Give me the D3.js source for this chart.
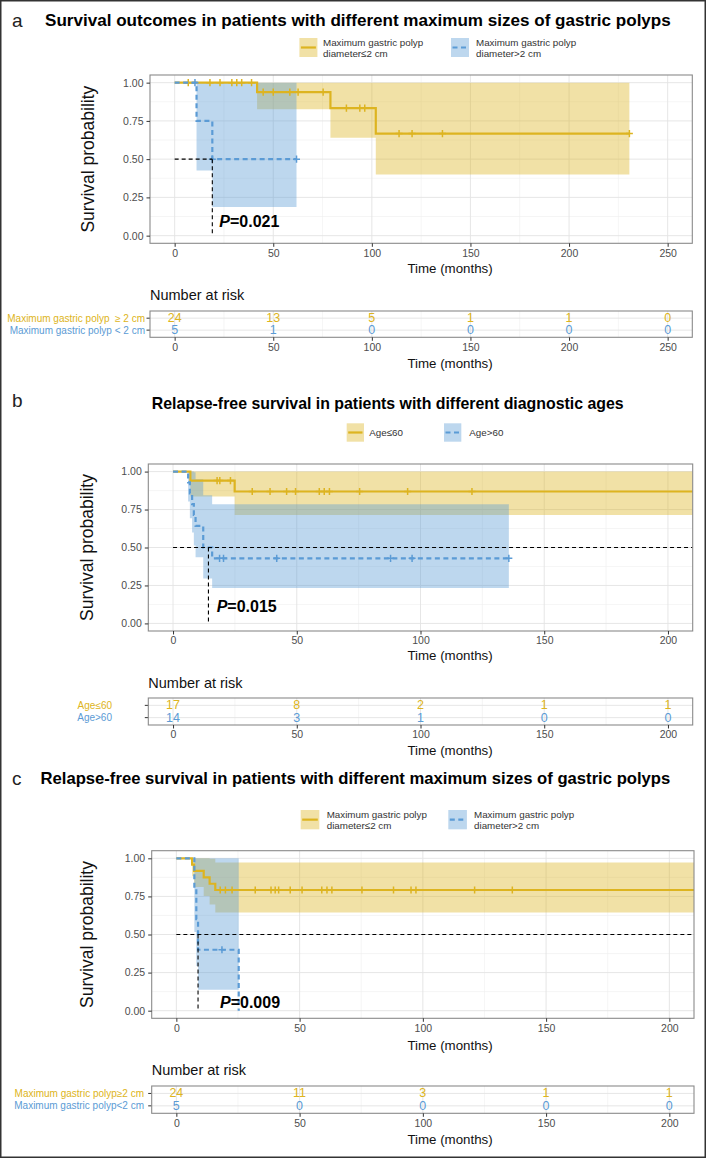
<!DOCTYPE html>
<html><head><meta charset="utf-8">
<script src="https://cdn.jsdelivr.net/npm/d3@7"></script>
<style>
html,body{margin:0;padding:0;background:#fff;}
svg{display:block;}
</style></head><body>
<svg id="chart" width="706" height="1158"></svg>
<script>
// ================= DATA =================
const yTicks = [0, 0.25, 0.5, 0.75, 1];
const yTickLabels = ["0.00", "0.25", "0.50", "0.75", "1.00"];

// ---- panel a ----
const aTitle = "Survival outcomes in patients with different maximum sizes of gastric polyps";
const aTicksX = [0, 50, 100, 150, 200, 250];
const aLegendYellow = ["Maximum gastric polyp", "diameter≤2 cm"];
const aLegendBlue = ["Maximum gastric polyp", "diameter>2 cm"];
const aRowLabels = ["Maximum gastric polyp  ≥ 2 cm", "Maximum gastric polyp < 2 cm"];
const aYellowTimes = [0, 41.8, 79, 102, 230.6];
const aYellowSurv = [1, 0.9375, 0.833, 0.667, 0.667];
const aYellowLower = [1, 0.826, 0.64, 0.40, 0.40];
const aYellowUpper = [1, 1, 1, 1, 1];
const aYellowCensor = [6.9, 17.9, 23, 29, 31.5, 34, 39, 44.9, 50, 58.4, 62.6, 75.3, 87.1, 93.9, 96.4, 113.8, 120.4, 135.8, 230.6];
const aBlueTimes = [0, 11.1, 19.1, 61.8];
const aBlueSurv = [1, 0.75, 0.5, 0.5];
const aBlueLower = [1, 0.426, 0.188, 0.188];
const aBlueUpper = [1, 1, 1, 1];
const aBlueCensor = [10.3, 19.1, 61.8];
const aMedian = 19.1;
const aPValue = "0.021";
const aRiskYellow = [24, 13, 5, 1, 1, 0];
const aRiskBlue = [5, 1, 0, 0, 0, 0];

// ---- panel b ----
const bTitle = "Relapse-free survival in patients with different diagnostic ages";
const bTicksX = [0, 50, 100, 150, 200];
const bLegendYellow = ["Age≤60"];
const bLegendBlue = ["Age>60"];
const bRowLabels = ["Age≤60", "Age>60"];
const bYellowTimes = [0, 7.0, 24.9, 215];
const bYellowSurv = [1, 0.941, 0.869, 0.869];
const bYellowLower = [1, 0.836, 0.714, 0.714];
const bYellowUpper = [1, 1, 1, 1];
const bYellowCensor = [17.8, 18.9, 23.2, 32, 39.2, 45.9, 49.5, 59.1, 61.1, 63.2, 75.4, 94.8, 120.8];
const bBlueTimes = [0, 6.1, 6.8, 7.7, 8.4, 9.1, 12.2, 15.8, 135.7];
const bBlueSurv = [1, 0.929, 0.857, 0.786, 0.714, 0.643, 0.5, 0.429, 0.429];
const bBlueLower = [1, 0.803, 0.692, 0.598, 0.513, 0.435, 0.296, 0.234, 0.234];
const bBlueUpper = [1, 1, 1, 1, 0.995, 0.95, 0.844, 0.785, 0.785];
const bBlueCensor = [18.8, 20.4, 41.9, 87.9, 96.6, 135.7];
const bMedian = 14.3;
const bPValue = "0.015";
const bRiskYellow = [17, 8, 2, 1, 1];
const bRiskBlue = [14, 3, 1, 0, 0];

// ---- panel c ----
const cTitle = "Relapse-free survival in patients with different maximum sizes of gastric polyps";
const cTicksX = [0, 50, 100, 150, 200];
const cLegendYellow = ["Maximum gastric polyp", "diameter≤2 cm"];
const cLegendBlue = ["Maximum gastric polyp", "diameter>2 cm"];
const cRowLabels = ["Maximum gastric polyp≥2 cm", "Maximum gastric polyp<2 cm"];
const cYellowTimes = [0, 6.4, 7.2, 11.1, 13.5, 15.8, 215];
const cYellowSurv = [1, 0.958, 0.917, 0.875, 0.833, 0.792, 0.792];
const cYellowLower = [1, 0.882, 0.812, 0.752, 0.697, 0.645, 0.645];
const cYellowUpper = [1, 1, 1, 1, 0.997, 0.972, 0.972];
const cYellowCensor = [17.8, 19.9, 22.6, 32, 38.4, 40.1, 41.5, 46.2, 51, 59, 61.1, 63.1, 75.3, 88.1, 95.2, 97.2, 121, 136.3];
const cBlueTimes = [0, 7.3, 8.1, 8.8, 25.3];
const cBlueSurv = [1, 0.8, 0.6, 0.4, 0];
const cBlueLower = [1, 0.516, 0.293, 0.137, 0.137];
const cBlueUpper = [1, 1, 1, 1, 1];
const cBlueCensor = [18.5];
const cMedian = 8.8;
const cPValue = "0.009";
const cRiskYellow = [24, 11, 3, 1, 1];
const cRiskBlue = [5, 0, 0, 0, 0];

// ================= STYLE =================
const FONT = '"Liberation Sans", Arial, Helvetica, sans-serif';
const YEL = "#DDB420", BLU = "#5B9BD5";
const FILL_OP = 0.4;
const BLUE_DASH = "5,3.5";

const svg = d3.select("#chart").attr("font-family", FONT);
svg.append("rect").attr("width", 706).attr("height", 1158).attr("fill", "#fff");
const defs = svg.append("defs");

function survAt(times, surv, t) {
  let v = surv[0];
  for (let i = 0; i < times.length; i++) if (times[i] <= t) v = surv[i];
  return v;
}
function fitWidth(sel, w) {
  const cw = sel.node().getComputedTextLength();
  const fs = parseFloat(sel.attr("font-size"));
  sel.attr("font-size", (fs * w / cw).toFixed(2));
}

function drawPanel(P) {
  const box = P.box;
  const x = d3.scaleLinear().domain(P.xDomain).range([box.l, box.r]);
  const y = d3.scaleLinear().domain([-0.05, 1.05]).range([box.b, box.t]);
  const g = svg.append("g");

  // tag + title
  g.append("text").attr("x", P.tagX).attr("y", P.tagY).attr("font-size", 19)
    .attr("fill", "#222").text(P.tag);
  const tt = g.append("text").attr("x", P.titleX).attr("y", P.titleY).attr("font-size", 16)
    .attr("font-weight", "bold").attr("fill", "#000").text(P.title);
  fitWidth(tt, P.titleW);

  // legend
  P.legend.forEach(it => {
    g.append("rect").attr("x", it.x).attr("y", it.y).attr("width", it.w).attr("height", it.h)
      .attr("fill", it.color).attr("fill-opacity", FILL_OP);
    g.append("line").attr("x1", it.x + 1.5).attr("x2", it.x + it.w - 1.5)
      .attr("y1", it.y + it.h / 2).attr("y2", it.y + it.h / 2)
      .attr("stroke", it.color).attr("stroke-width", 2.2)
      .attr("stroke-dasharray", it.dash || null);
    const n = it.lines.length;
    it.lines.forEach((ln, i) => {
      g.append("text").attr("x", it.tx)
        .attr("y", it.y + it.h / 2 + (i - (n - 1) / 2) * 11)
        .attr("dominant-baseline", "central").attr("font-size", 9.8).attr("fill", "#333")
        .text(ln);
    });
  });

  // clip
  const cid = "clip-" + P.id;
  defs.append("clipPath").attr("id", cid).append("rect")
    .attr("x", box.l).attr("y", box.t).attr("width", box.r - box.l).attr("height", box.b - box.t);

  // grid
  const minorX = P.ticksX.slice(1).map((d, i) => (d + P.ticksX[i]) / 2);
  const minorY = yTicks.slice(1).map((d, i) => (d + yTicks[i]) / 2);
  const grid = g.append("g");
  grid.selectAll(null).data(minorX).join("line")
    .attr("x1", d => x(d)).attr("x2", d => x(d)).attr("y1", box.t).attr("y2", box.b)
    .attr("stroke", "#EFEFEF").attr("stroke-width", 0.6);
  grid.selectAll(null).data(minorY).join("line")
    .attr("y1", d => y(d)).attr("y2", d => y(d)).attr("x1", box.l).attr("x2", box.r)
    .attr("stroke", "#EFEFEF").attr("stroke-width", 0.6);
  grid.selectAll(null).data(P.ticksX).join("line")
    .attr("x1", d => x(d)).attr("x2", d => x(d)).attr("y1", box.t).attr("y2", box.b)
    .attr("stroke", "#E3E3E3").attr("stroke-width", 0.9);
  grid.selectAll(null).data(yTicks).join("line")
    .attr("y1", d => y(d)).attr("y2", d => y(d)).attr("x1", box.l).attr("x2", box.r)
    .attr("stroke", "#E3E3E3").attr("stroke-width", 0.9);

  const plot = g.append("g").attr("clip-path", `url(#${cid})`);
  // CI ribbons
  P.curves.forEach(c => {
    const pts = c.times.map((t, i) => ({ t, lo: c.lower[i], hi: c.upper[i] }));
    plot.append("path").datum(pts)
      .attr("d", d3.area().curve(d3.curveStepAfter).x(d => x(d.t)).y0(d => y(d.lo)).y1(d => y(d.hi)))
      .attr("fill", c.color).attr("fill-opacity", FILL_OP);
  });
  // curves + censor marks
  P.curves.forEach(c => {
    const pts = c.times.map((t, i) => ({ t, s: c.surv[i] }));
    plot.append("path").datum(pts)
      .attr("d", d3.line().curve(d3.curveStepAfter).x(d => x(d.t)).y(d => y(d.s)))
      .attr("fill", "none").attr("stroke", c.color).attr("stroke-width", 2.2)
      .attr("stroke-dasharray", c.dash || null);
    plot.selectAll(null).data(c.censor).join("path")
      .attr("d", t => {
        const cx = x(t), cy = y(survAt(c.times, c.surv, t));
        return `M${cx - 3.5},${cy}H${cx + 3.5}M${cx},${cy - 3.6}V${cy + 3.6}`;
      })
      .attr("stroke", c.color).attr("stroke-width", 1.5).attr("fill", "none");
  });
  // median lines
  const mEnd = P.medianFull ? P.xDomain[1] : P.median;
  plot.append("path")
    .attr("d", `M${x(0)},${y(0.5)}H${x(mEnd)}M${x(P.median)},${y(0.5)}V${y(0)}`)
    .attr("fill", "none").attr("stroke", "#000").attr("stroke-width", 1.1)
    .attr("stroke-dasharray", "4,3");

  // p value
  const pt = g.append("text").attr("x", P.pX).attr("y", P.pY).attr("font-size", 16)
    .attr("font-weight", "bold").attr("fill", "#000");
  pt.append("tspan").attr("font-style", "italic").text("P");
  pt.append("tspan").text("=" + P.pValue);

  // border
  g.append("rect").attr("x", box.l).attr("y", box.t).attr("width", box.r - box.l)
    .attr("height", box.b - box.t).attr("fill", "none").attr("stroke", "#8A8A8A").attr("stroke-width", 1.1);

  // axes
  const ax = g.append("g").attr("transform", `translate(0,${box.b})`)
    .call(d3.axisBottom(x).tickValues(P.ticksX).tickSize(3.5).tickPadding(2.5).tickFormat(d3.format("d")));
  const ay = g.append("g").attr("transform", `translate(${box.l},0)`)
    .call(d3.axisLeft(y).tickValues(yTicks).tickSize(3.5).tickPadding(3).tickFormat((d, i) => yTickLabels[i]));
  [ax, ay].forEach(a => {
    a.attr("font-family", FONT).attr("font-size", 10.5);
    a.select(".domain").remove();
    a.selectAll("line").attr("stroke", "#333");
    a.selectAll("text").attr("fill", "#4D4D4D");
  });

  // axis titles
  g.append("text").attr("transform", `translate(${P.yLabX},${(box.t + box.b) / 2}) rotate(-90)`)
    .attr("text-anchor", "middle").attr("dominant-baseline", "central")
    .attr("font-size", 17.5).attr("fill", "#111").text("Survival probability");
  g.append("text").attr("x", 450).attr("y", P.xTitleY).attr("text-anchor", "middle")
    .attr("dominant-baseline", "central").attr("font-size", 13.3).attr("fill", "#111").text("Time (months)");

  // ===== risk table =====
  const T = P.table;
  const tb = T.box;
  const tx = d3.scaleLinear().domain(P.xDomain).range([tb.l, tb.r]);
  const ty = d3.scalePoint().domain([0, 1]).range([tb.t, tb.b]).padding(0.6);
  const tg = svg.append("g");
  tg.append("text").attr("x", tb.l).attr("y", T.narY).attr("dominant-baseline", "central")
    .attr("font-size", 14.5).attr("fill", "#111").text("Number at risk");
  tg.selectAll(null).data(minorX).join("line")
    .attr("x1", d => tx(d)).attr("x2", d => tx(d)).attr("y1", tb.t).attr("y2", tb.b)
    .attr("stroke", "#EFEFEF").attr("stroke-width", 0.6);
  tg.selectAll(null).data(P.ticksX).join("line")
    .attr("x1", d => tx(d)).attr("x2", d => tx(d)).attr("y1", tb.t).attr("y2", tb.b)
    .attr("stroke", "#E3E3E3").attr("stroke-width", 0.9);
  tg.selectAll(null).data([0, 1]).join("line")
    .attr("y1", d => ty(d)).attr("y2", d => ty(d)).attr("x1", tb.l).attr("x2", tb.r)
    .attr("stroke", "#E3E3E3").attr("stroke-width", 0.9);
  const colors = [YEL, BLU];
  T.risk.forEach((row, ri) => {
    tg.selectAll(null).data(row).join("text")
      .attr("x", (d, i) => tx(P.ticksX[i])).attr("y", ty(ri))
      .attr("text-anchor", "middle").attr("dominant-baseline", "central")
      .attr("font-size", 12.5).attr("fill", colors[ri]).text(d => d);
    tg.append("text").attr("x", T.rowLabelX).attr("y", ty(ri)).attr("text-anchor", "end")
      .attr("dominant-baseline", "central").attr("font-size", 10).attr("fill", colors[ri])
      .style("white-space", "pre").text(T.labels[ri]);
    tg.append("line").attr("x1", tb.l - 3.5).attr("x2", tb.l).attr("y1", ty(ri)).attr("y2", ty(ri))
      .attr("stroke", "#333");
  });
  tg.append("rect").attr("x", tb.l).attr("y", tb.t).attr("width", tb.r - tb.l).attr("height", tb.b - tb.t)
    .attr("fill", "none").attr("stroke", "#8A8A8A").attr("stroke-width", 1.1);
  const tax = tg.append("g").attr("transform", `translate(0,${tb.b})`)
    .call(d3.axisBottom(tx).tickValues(P.ticksX).tickSize(3.5).tickPadding(2.5).tickFormat(d3.format("d")));
  tax.attr("font-family", FONT).attr("font-size", 10.5);
  tax.select(".domain").remove();
  tax.selectAll("line").attr("stroke", "#333");
  tax.selectAll("text").attr("fill", "#4D4D4D");
  tg.append("text").attr("x", 450).attr("y", T.tTitleY).attr("text-anchor", "middle")
    .attr("dominant-baseline", "central").attr("font-size", 13.3).attr("fill", "#111").text("Time (months)");
}

// ================= PANELS =================
drawPanel({
  id: "a", tag: "a", tagX: 12, tagY: 27, title: aTitle, titleX: 45, titleY: 26, titleW: 626,
  box: { l: 150, r: 692.3, t: 75, b: 243.3 }, xDomain: [-12.5, 262.5], ticksX: aTicksX,
  legend: [
    { x: 299.4, y: 38, w: 18, h: 19, color: YEL, dash: null, tx: 323, lines: aLegendYellow },
    { x: 451, y: 38, w: 18, h: 19, color: BLU, dash: BLUE_DASH, tx: 476, lines: aLegendBlue }
  ],
  curves: [
    { times: aYellowTimes, surv: aYellowSurv, lower: aYellowLower, upper: aYellowUpper, censor: aYellowCensor, color: YEL, dash: null },
    { times: aBlueTimes, surv: aBlueSurv, lower: aBlueLower, upper: aBlueUpper, censor: aBlueCensor, color: BLU, dash: BLUE_DASH }
  ],
  median: aMedian, medianFull: false, pX: 219.3, pY: 226.7, pValue: aPValue,
  yLabX: 88, xTitleY: 268,
  table: { box: { l: 150, r: 692.3, t: 311, b: 337.3 }, narY: 295, tTitleY: 363, rowLabelX: 145,
    labels: aRowLabels, risk: [aRiskYellow, aRiskBlue] }
});

drawPanel({
  id: "b", tag: "b", tagX: 12, tagY: 407, title: bTitle, titleX: 151.7, titleY: 409, titleW: 472,
  box: { l: 148.3, r: 692.7, t: 464, b: 631 }, xDomain: [-10, 210], ticksX: bTicksX,
  legend: [
    { x: 346.7, y: 423.3, w: 17.3, h: 18.4, color: YEL, dash: null, tx: 369.3, lines: bLegendYellow },
    { x: 444, y: 423.3, w: 17.3, h: 18.4, color: BLU, dash: BLUE_DASH, tx: 469.3, lines: bLegendBlue }
  ],
  curves: [
    { times: bYellowTimes, surv: bYellowSurv, lower: bYellowLower, upper: bYellowUpper, censor: bYellowCensor, color: YEL, dash: null },
    { times: bBlueTimes, surv: bBlueSurv, lower: bBlueLower, upper: bBlueUpper, censor: bBlueCensor, color: BLU, dash: BLUE_DASH }
  ],
  median: bMedian, medianFull: true, pX: 216.7, pY: 611.7, pValue: bPValue,
  yLabX: 87, xTitleY: 655.7,
  table: { box: { l: 148.3, r: 692.7, t: 698, b: 725 }, narY: 682.7, tTitleY: 750, rowLabelX: 112,
    labels: bRowLabels, risk: [bRiskYellow, bRiskBlue] }
});

drawPanel({
  id: "c", tag: "c", tagX: 12, tagY: 785, title: cTitle, titleX: 40.5, titleY: 784, titleW: 630,
  box: { l: 151.7, r: 694, t: 850.7, b: 1018.3 }, xDomain: [-10, 210], ticksX: cTicksX,
  legend: [
    { x: 300.7, y: 810, w: 18.6, h: 19.3, color: YEL, dash: null, tx: 326.7, lines: cLegendYellow },
    { x: 448.3, y: 810, w: 18.6, h: 19.3, color: BLU, dash: BLUE_DASH, tx: 474, lines: cLegendBlue }
  ],
  curves: [
    { times: cYellowTimes, surv: cYellowSurv, lower: cYellowLower, upper: cYellowUpper, censor: cYellowCensor, color: YEL, dash: null },
    { times: cBlueTimes, surv: cBlueSurv, lower: cBlueLower, upper: cBlueUpper, censor: cBlueCensor, color: BLU, dash: BLUE_DASH }
  ],
  median: cMedian, medianFull: true, pX: 220, pY: 1008, pValue: cPValue,
  yLabX: 87, xTitleY: 1045,
  table: { box: { l: 151.7, r: 694, t: 1086, b: 1113.3 }, narY: 1070, tTitleY: 1139.3, rowLabelX: 144,
    labels: cRowLabels, risk: [cRiskYellow, cRiskBlue] }
});

// outer frame
svg.append("rect").attr("x", 0.75).attr("y", 0.75).attr("width", 704.5).attr("height", 1156.5)
  .attr("fill", "none").attr("stroke", "#333").attr("stroke-width", 1.5);
</script>
</body></html>
